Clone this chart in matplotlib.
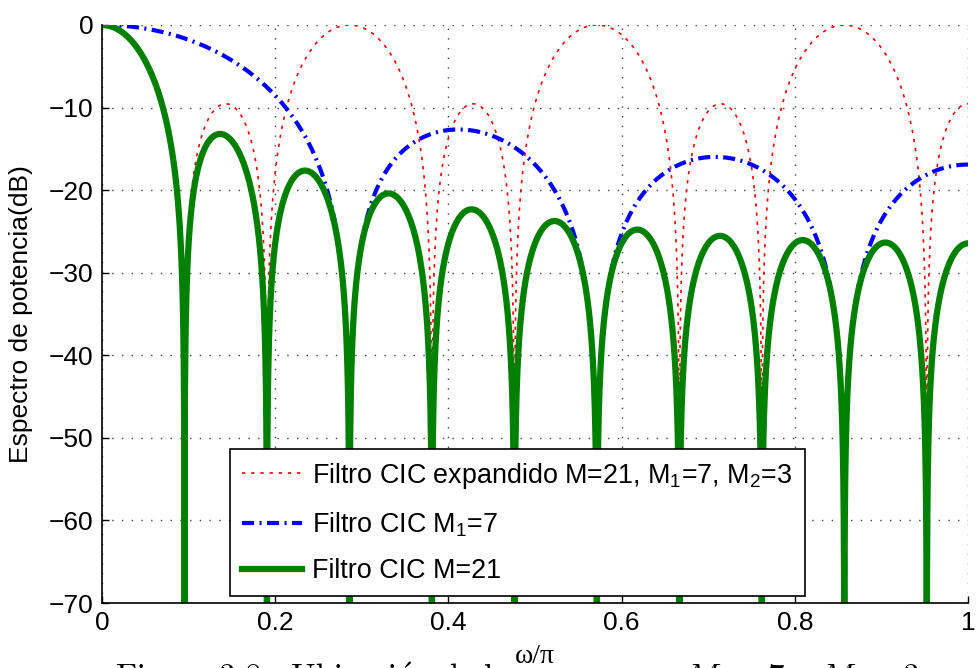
import numpy as np
import matplotlib
matplotlib.use("Agg")
import matplotlib.pyplot as plt
from matplotlib import font_manager

# filter parameters (from the legend)
M = 21
M1 = 7
M2 = 3

x_ticks = [0, 0.2, 0.4, 0.6, 0.8, 1]
x_ticklabels = ["0", "0.2", "0.4", "0.6", "0.8", "1"]
y_ticks = [0, -10, -20, -30, -40, -50, -60, -70]
y_ticklabels = ["0", "\u221210", "\u221220", "\u221230", "\u221240", "\u221250", "\u221260", "\u221270"]

labels = ["Filtro CIC expandido M=21, M$_1$=7, M$_2$=3",
          "Filtro CIC M$_1$=7",
          "Filtro CIC M=21"]
caption = (r"$\mathrm{Figura\ 3.8{:}\ Ubicaci\acute{o}n\ de\ los\ ceros\ para\ }"
           r"M_1 = 7\mathrm{\ y\ }M_2 = 3$")


def cic_db(w, n, up=1):
    # |sin(n*up*w/2) / (n*sin(up*w/2))| in dB, limit 1 where both vanish
    num = np.sin(n * up * w / 2)
    den = n * np.sin(up * w / 2)
    h = np.ones_like(w)
    ok = np.abs(den) > 1e-12
    h[ok] = np.abs(num[ok] / den[ok])
    return 20 * np.log10(np.maximum(h, 1e-15))


wn = np.linspace(0, 1, 30001)
w = np.pi * wn
h_exp = cic_db(w, M2, up=M1)   # H_M2(z^M1)
h_m1 = cic_db(w, M1)
h_m = cic_db(w, M)

names = {f.name for f in font_manager.fontManager.ttflist}
sans = "Liberation Sans" if "Liberation Sans" in names else "DejaVu Sans"
plt.rcParams['font.family'] = [sans, 'DejaVu Sans']
plt.rcParams['mathtext.fontset'] = 'custom'
plt.rcParams['mathtext.rm'] = sans
plt.rcParams['mathtext.it'] = sans + ':italic'

fig = plt.figure(figsize=(9.76, 6.68), dpi=100)
ax = fig.add_axes([0.1045, 0.0973, 0.8873, 0.8653])

ax.plot(wn, h_exp, color=(1, 0, 0), lw=1.2, dashes=(2, 3.5), label=labels[0])
ax.plot(wn, h_m1, color=(0, 0, 1), lw=3, dashes=(2.9, 1.3, 0.5, 1.3), label=labels[1])
ax.plot(wn, h_m, color=(0, 0.5, 0), lw=4.5, label=labels[2])

ax.set_xlim(0, 1)
ax.set_ylim(-70, 0)
ax.set_xticks(x_ticks)
ax.set_xticklabels(x_ticklabels, fontsize=19)
ax.set_yticks(y_ticks)
ax.set_yticklabels(y_ticklabels, fontsize=19)
ax.tick_params(direction='in', length=5, width=1, pad=6)
ax.grid(True, color='0.25', lw=1, linestyle=(0, (1, 6)))

for s in ['top', 'right']:
    ax.spines[s].set_visible(False)
for s in ['left', 'bottom']:
    ax.spines[s].set_linewidth(1.2)

ax.set_ylabel("Espectro de potencia(dB)", fontsize=19)
ax.yaxis.set_label_coords(-0.080, 0.5)
ax.set_xlabel("\u03c9/\u03c0", fontsize=20, family=['Liberation Serif', 'DejaVu Serif'])
ax.xaxis.set_label_coords(0.5, -0.071)

leg = ax.legend(loc='lower left', bbox_to_anchor=(0.148, 0.012), borderaxespad=0,
                fontsize=19.4, fancybox=False, framealpha=1, edgecolor='black',
                handlelength=2.2, handletextpad=0.4, labelspacing=0.72,
                borderpad=0.45)
leg.get_frame().set_linewidth(1.2)

# caption under the figure, mostly below the bottom edge
cap = fig.text(115 / 976, -20 / 668, caption, fontsize=17, ha='left', va='baseline',
               math_fontfamily='cm')
fig.canvas.draw()
bb = cap.get_window_extent()
cap.set_fontsize(17 * 805 / bb.width)

fig.savefig("out.png", dpi=100)
